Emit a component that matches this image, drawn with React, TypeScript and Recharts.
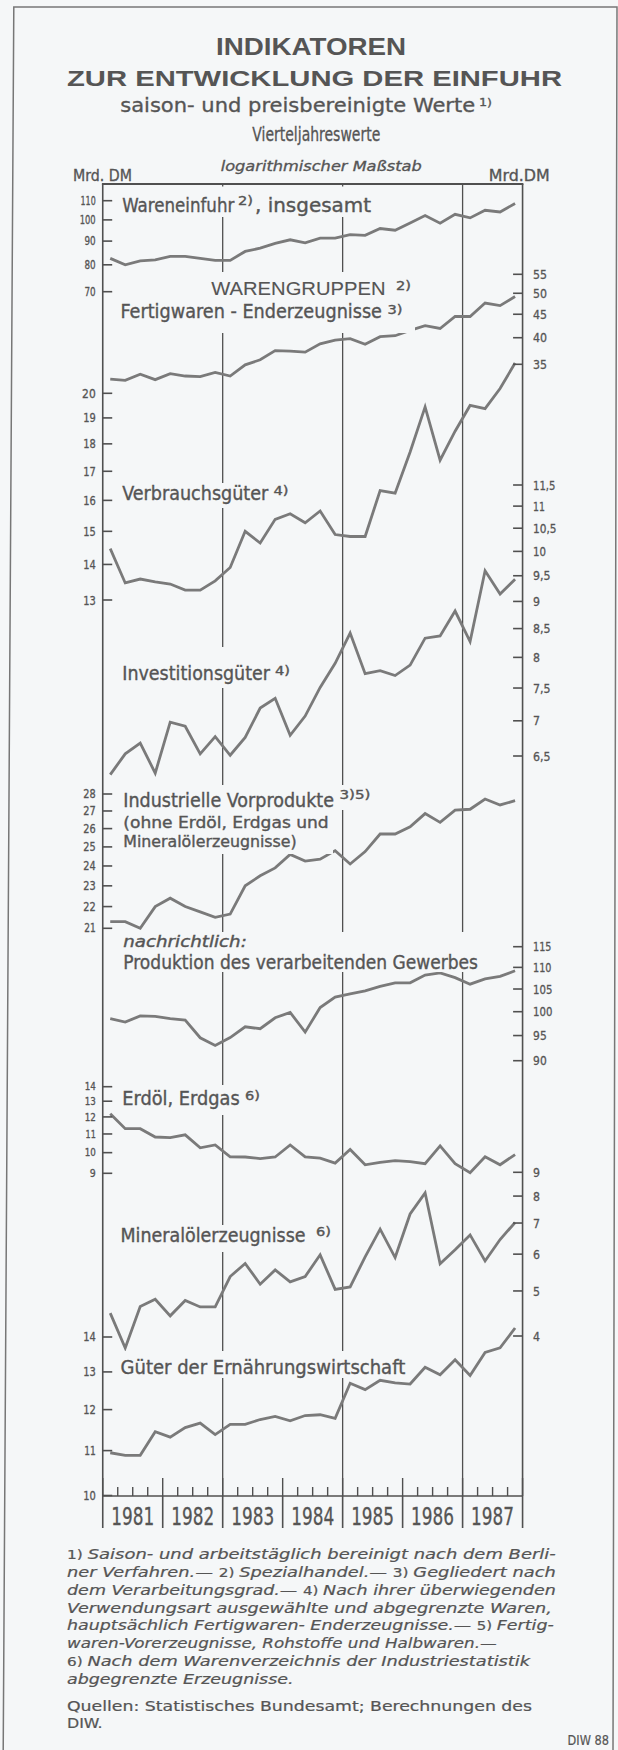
import React from 'react';
import { LineChart, Line, XAxis, YAxis, ReferenceLine } from 'recharts';

// Vierteljahreswerte 1981 I bis 1987 IV
const YEARS = ['1981', '1982', '1983', '1984', '1985', '1986', '1987'];

const WARENEINFUHR = [82.6, 80, 81.6, 82, 83.4, 83.4, 82.6, 81.8, 81.8, 85.5, 86.9, 89, 90.6, 89.2, 91.3, 91.3, 92.9, 92.6, 95.8, 95, 98.5, 102.2, 98.4, 102.8, 101, 104.9, 104, 108.5];
const FERTIGWAREN = [32.5, 32.3, 33.3, 32.4, 33.4, 33.0, 32.9, 33.6, 33.0, 34.9, 35.8, 37.5, 37.4, 37.2, 38.8, 39.5, 39.8, 38.7, 40.2, 40.4, 41.5, 42.5, 41.9, 44.5, 44.5, 47.6, 47.0, 49.2];
const VERBRAUCHSGUETER = [14.47, 13.47, 13.58, 13.5, 13.44, 13.27, 13.27, 13.53, 13.91, 15.0, 14.64, 15.38, 15.56, 15.27, 15.65, 14.9, 14.84, 14.84, 16.33, 16.24, 17.7, 19.44, 17.4, 18.48, 19.5, 19.37, 20.2, 21.3];
const INVESTITIONSGUETER = [6.25, 6.53, 6.68, 6.27, 6.98, 6.92, 6.53, 6.77, 6.51, 6.76, 7.19, 7.34, 6.79, 7.07, 7.51, 7.9, 8.42, 7.73, 7.78, 7.7, 7.87, 8.33, 8.37, 8.82, 8.27, 9.6, 9.14, 9.43];
const VORPRODUKTE = [21.3, 21.3, 21.0, 22.0, 22.4, 22.0, 21.75, 21.5, 21.65, 23.0, 23.5, 23.9, 24.6, 24.25, 24.35, 24.8, 24.1, 24.75, 25.7, 25.7, 26.1, 26.85, 26.35, 27.05, 27.1, 27.7, 27.35, 27.6];
const PRODUKTION = [98.5, 97.8, 99.1, 99.0, 98.5, 98.2, 94.55, 93.0, 94.6, 96.8, 96.4, 98.7, 99.85, 95.7, 100.9, 103.2, 103.9, 104.6, 105.6, 106.4, 106.4, 108.2, 108.7, 107.6, 106.1, 107.3, 107.9, 109.2];
const ERDOEL_ERDGAS = [12.2, 11.3, 11.3, 10.83, 10.8, 10.95, 10.25, 10.4, 9.79, 9.78, 9.7, 9.78, 10.4, 9.79, 9.72, 9.48, 10.16, 9.4, 9.52, 9.6, 9.55, 9.45, 10.35, 9.45, 9.03, 9.79, 9.4, 9.9];
const MINERALOEL = [4.48, 3.77, 4.63, 4.8, 4.42, 4.77, 4.62, 4.62, 5.37, 5.73, 5.17, 5.55, 5.23, 5.37, 5.98, 5.04, 5.1, 5.92, 6.79, 5.9, 7.32, 8.13, 5.72, 6.13, 6.6, 5.8, 6.45, 7.02];
const ERNAEHRUNG = [10.95, 10.89, 10.89, 11.45, 11.32, 11.55, 11.66, 11.38, 11.63, 11.63, 11.75, 11.83, 11.72, 11.85, 11.87, 11.78, 12.69, 12.52, 12.77, 12.7, 12.67, 13.13, 12.92, 13.34, 12.9, 13.55, 13.68, 14.27];

const WARE_TICKS = [110, 100, 90, 80, 70];
const FERTIG_TICKS = [55, 50, 45, 40, 35];
const VERBRAUCH_TICKS = [20, 19, 18, 17, 16, 15, 14, 13];
const INVEST_TICKS = [11.5, 11, 10.5, 10, 9.5, 9, 8.5, 8, 7.5, 7, 6.5];
const VORPROD_TICKS = [28, 27, 26, 25, 24, 23, 22, 21];
const PROD_TICKS = [115, 110, 105, 100, 95, 90];
const ERDOEL_TICKS = [14, 13, 12, 11, 10, 9];
const MINERAL_TICKS = [9, 8, 7, 6, 5, 4];
const ERNAEHRUNG_TICKS = [14, 13, 12, 11, 10];

const BG = '#f5f7f8';
const INK = '#555555';
const AXIS = '#505050';
const LINE = '#7a7a7a';
const LABEL_FONT = "'DejaVu Sans Condensed', 'Liberation Sans Narrow', 'Liberation Sans', sans-serif";
const TITLE_FONT = "'Liberation Sans', Arial, sans-serif";

// plot frame on the page
const TOP = 184;
const BOTTOM = 1496;
const LEFT = 102.7;
const RIGHT = 522.6;
const CHART_H = 1540;
const THIN = 0.01; // axes need a size > 0 to be drawn

// every panel has its own log scale; fixed by two tick positions
function logDomain(v1: number, y1: number, v2: number, y2: number): [number, number] {
  const ppd = (y2 - y1) / (Math.log10(v1) - Math.log10(v2));
  const hi = Math.log10(v1) + (y1 - TOP) / ppd;
  const lo = hi - (BOTTOM - TOP) / ppd;
  return [Math.pow(10, lo), Math.pow(10, hi)];
}

const SERIES = [
  { key: 'ware', values: WARENEINFUHR, side: 'left', ticks: WARE_TICKS, domain: logDomain(110, 200.7, 70, 291.7), fs: 11.5, cw: 5.6 },
  { key: 'fertig', values: FERTIGWAREN, side: 'right', ticks: FERTIG_TICKS, domain: logDomain(55, 274.3, 35, 364.3), fs: 13, cw: 7 },
  { key: 'verbrauch', values: VERBRAUCHSGUETER, side: 'left', ticks: VERBRAUCH_TICKS, domain: logDomain(20, 393.3, 13, 600), fs: 12.5, cw: 6.8 },
  { key: 'invest', values: INVESTITIONSGUETER, side: 'right', ticks: INVEST_TICKS, domain: logDomain(11.5, 485, 6.5, 756), fs: 13, cw: 7 },
  { key: 'vorprod', values: VORPRODUKTE, side: 'left', ticks: VORPROD_TICKS, domain: logDomain(28, 794, 21, 928.3), fs: 11.5, cw: 6.2 },
  { key: 'prod', values: PRODUKTION, side: 'right', ticks: PROD_TICKS, domain: logDomain(115, 946.7, 90, 1060.7), fs: 12.5, cw: 6.8 },
  { key: 'erdoel', values: ERDOEL_ERDGAS, side: 'left', ticks: ERDOEL_TICKS, domain: logDomain(14, 1086.7, 9, 1173.3), fs: 10.5, cw: 6 },
  { key: 'mineral', values: MINERALOEL, side: 'right', ticks: MINERAL_TICKS, domain: logDomain(9, 1172.3, 4, 1336), fs: 13, cw: 7 },
  { key: 'ernaehrung', values: ERNAEHRUNG, side: 'left', ticks: ERNAEHRUNG_TICKS, domain: logDomain(14, 1337, 10, 1495.5), fs: 12, cw: 6.8 },
];

const data = WARENEINFUHR.map((_, i) => {
  const row: Record<string, number> = { q: i + 0.5 };
  SERIES.forEach((s) => { row[s.key] = s.values[i]; });
  return row;
});

const QUARTER_TICKS = Array.from({ length: YEARS.length * 4 + 1 }, (_, i) => i);

const fmt = (v: number) => String(v).replace('.', ',');
const tickWidth = (label: string, cw: number) =>
  label.split('').reduce((a, c) => a + (c === ',' ? cw * 0.5 : c === '1' ? cw * 0.85 : cw), 0);

const makeTick = (side: string, fs: number, cw: number) => (props: any) => {
  const { x, y, payload } = props;
  const label = fmt(payload.value);
  const left = side === 'left';
  return (
    <g>
      <line x1={x} x2={left ? x + 9.5 : x - 9.5} y1={y} y2={y} stroke={AXIS} strokeWidth={1.6} />
      <text
        x={left ? x - 7 : x + 10.5}
        y={y}
        dy={fs * 0.36}
        textAnchor={left ? 'end' : 'start'}
        fontSize={fs}
        fontFamily={LABEL_FONT}
        fill={INK}
        stroke={INK}
        strokeWidth={0.3}
        textLength={tickWidth(label, cw)}
        lengthAdjust="spacingAndGlyphs"
      >
        {label}
      </text>
    </g>
  );
};

const quarterTick = (props: any) => {
  const { x, y, payload } = props;
  const t = payload.value as number;
  const yearEdge = t % 4 === 0;
  return (
    <g>
      <line x1={x} x2={x} y1={y} y2={y - (yearEdge ? 18 : 9)} stroke={AXIS} strokeWidth={1.4} />
      {yearEdge && <line x1={x} x2={x} y1={y} y2={y + 32} stroke={AXIS} strokeWidth={1.6} />}
      {t % 4 === 2 && (
        <text x={x} y={y + 29} textAnchor="middle" fontSize={25} fontFamily={LABEL_FONT} fill={INK}
          stroke={INK} strokeWidth={0.3} textLength={43} lengthAdjust="spacingAndGlyphs">
          {YEARS[(t - 2) / 4]}
        </text>
      )}
    </g>
  );
};

type Label = { t: string; x: number; y: number; w: number; fs: number; italic?: boolean };

const LABELS: Label[] = [
  { t: 'Wareneinfuhr', x: 122.3, y: 211.7, w: 112, fs: 20 },
  { t: '2)', x: 238, y: 205, w: 15, fs: 12 },
  { t: ', insgesamt', x: 255, y: 211.7, w: 116, fs: 20 },
  { t: 'Fertigwaren - Enderzeugnisse', x: 120.5, y: 318.3, w: 261.5, fs: 19.5 },
  { t: '3)', x: 387.4, y: 314, w: 15, fs: 12 },
  { t: 'Verbrauchsgüter', x: 122.3, y: 500, w: 146, fs: 19.5 },
  { t: '4)', x: 273.5, y: 495, w: 15, fs: 12 },
  { t: 'Investitionsgüter', x: 122.3, y: 680, w: 147.7, fs: 19.5 },
  { t: '4)', x: 275, y: 675, w: 15, fs: 12 },
  { t: 'Industrielle Vorprodukte', x: 123.3, y: 806.7, w: 210.7, fs: 19 },
  { t: '3)5)', x: 339.4, y: 799, w: 31, fs: 12 },
  { t: '(ohne Erdöl, Erdgas und', x: 123.3, y: 828.3, w: 205.4, fs: 16 },
  { t: 'Mineralölerzeugnisse)', x: 123.3, y: 846.7, w: 173.4, fs: 16 },
  { t: 'nachrichtlich:', x: 123.3, y: 946.7, w: 123.5, fs: 15, italic: true },
  { t: 'Produktion des verarbeitenden Gewerbes', x: 123.3, y: 969.3, w: 354.7, fs: 20 },
  { t: 'Erdöl, Erdgas', x: 122.3, y: 1105, w: 117.4, fs: 19.5 },
  { t: '6)', x: 245, y: 1100, w: 15, fs: 12 },
  { t: 'Mineralölerzeugnisse', x: 120.5, y: 1241.7, w: 185, fs: 19 },
  { t: '6)', x: 316, y: 1236, w: 15, fs: 12 },
  { t: 'Güter der Ernährungswirtschaft', x: 120.5, y: 1374, w: 284.7, fs: 19.5 },
];

// background patches that break the year lines behind the labels
const MASKS = [
  [116, 186.5, 262, 30.5],
  [116, 272, 299, 61],
  [118, 483, 176, 25],
  [118, 647, 182, 41],
  [118, 785, 258, 25],
  [118, 810, 215, 44],
  [118, 932, 365, 40],
  [118, 1085, 148, 30],
  [116, 1225, 221, 27],
  [116, 1351, 294, 27],
];

type Seg = { t: string; sup?: boolean };
const FOOTNOTES: { segs: Seg[]; y: number; w: number }[] = [
  { segs: [{ t: '1) ', sup: true }, { t: 'Saison- und arbeitstäglich bereinigt nach dem Berli-' }], y: 1559, w: 488.8 },
  { segs: [{ t: 'ner Verfahren.— ' }, { t: '2) ', sup: true }, { t: 'Spezialhandel.— ' }, { t: '3) ', sup: true }, { t: 'Gegliedert nach' }], y: 1577, w: 488.8 },
  { segs: [{ t: 'dem Verarbeitungsgrad.— ' }, { t: '4) ', sup: true }, { t: 'Nach ihrer überwiegenden' }], y: 1595, w: 488.8 },
  { segs: [{ t: 'Verwendungsart ausgewählte und abgegrenzte Waren,' }], y: 1612.5, w: 484.8 },
  { segs: [{ t: 'hauptsächlich Fertigwaren- Enderzeugnisse.— ' }, { t: '5) ', sup: true }, { t: 'Fertig-' }], y: 1630, w: 486.8 },
  { segs: [{ t: 'waren-Vorerzeugnisse, Rohstoffe und Halbwaren.—' }], y: 1648, w: 429.7 },
  { segs: [{ t: '6) ', sup: true }, { t: 'Nach dem Warenverzeichnis der Industriestatistik' }], y: 1666, w: 463 },
  { segs: [{ t: 'abgegrenzte Erzeugnisse.' }], y: 1684, w: 226.6 },
];

function Overlay() {
  return (
    <svg width={618} height={1750} style={{ position: 'absolute', left: 0, top: 0, pointerEvents: 'none' }}>
      <polyline points="3.2,1750 13.8,7 617,7 613,1750" fill="none" stroke="#777" strokeWidth={1.5} />
      {/* upper edge of the plot frame */}
      <rect x={LEFT - 0.8} y={TOP - 1} width={RIGHT - LEFT + 1.6} height={2} fill={AXIS} />

      <g fill={INK} fontFamily={TITLE_FONT}>
        <text x={216} y={55} fontSize={24} fontWeight="bold" textLength={190} lengthAdjust="spacingAndGlyphs">INDIKATOREN</text>
        <text x={67} y={86} fontSize={22.5} fontWeight="bold" textLength={495} lengthAdjust="spacingAndGlyphs">ZUR ENTWICKLUNG DER EINFUHR</text>
      </g>
      <g fill={INK} stroke={INK} strokeWidth={0.3} fontFamily={LABEL_FONT}>
        <text x={120.2} y={111.7} fontSize={20} textLength={355} lengthAdjust="spacingAndGlyphs">saison- und preisbereinigte Werte</text>
        <text x={479} y={106} fontSize={11} textLength={13} lengthAdjust="spacingAndGlyphs">1)</text>
        <text x={252.3} y={140.7} fontSize={19} textLength={128} lengthAdjust="spacingAndGlyphs">Vierteljahreswerte</text>
        <text x={220.7} y={171} fontSize={14} fontStyle="italic" textLength={201} lengthAdjust="spacingAndGlyphs">logarithmischer Maßstab</text>
        <text x={73} y={180.5} fontSize={15} textLength={59} lengthAdjust="spacingAndGlyphs">Mrd. DM</text>
        <text x={488.8} y={180.5} fontSize={15} textLength={61} lengthAdjust="spacingAndGlyphs">Mrd.DM</text>
      </g>

      {MASKS.map(([x, y, w, h], i) => (
        <rect key={i} x={x} y={y} width={w} height={h} fill={BG} />
      ))}

      <g fill={INK} stroke={INK} strokeWidth={0.35} fontFamily={LABEL_FONT}>
        {LABELS.map((l, i) => (
          <text key={i} x={l.x} y={l.y} fontSize={l.fs} fontStyle={l.italic ? 'italic' : 'normal'}
            textLength={l.w} lengthAdjust="spacingAndGlyphs">
            {l.t}
          </text>
        ))}
        <text x={211.2} y={295} fontSize={18.5} fontFamily={TITLE_FONT} strokeWidth={0.1} textLength={174.4} lengthAdjust="spacingAndGlyphs">WARENGRUPPEN</text>
        <text x={396} y={290} fontSize={12} textLength={15} lengthAdjust="spacingAndGlyphs">2)</text>
      </g>

      <g fill={INK} stroke={INK} strokeWidth={0.2} fontFamily={LABEL_FONT} fontSize={14}>
        {FOOTNOTES.map((f, i) => (
          <text key={i} x={67} y={f.y} textLength={f.w} lengthAdjust="spacingAndGlyphs" fontStyle="italic">
            {f.segs.map((s, j) => (
              <tspan key={j} fontStyle={s.sup ? 'normal' : 'italic'} fontSize={s.sup ? 12 : 14}>{s.t}</tspan>
            ))}
          </text>
        ))}
        <text x={67} y={1711} textLength={465} lengthAdjust="spacingAndGlyphs">Quellen: Statistisches Bundesamt; Berechnungen des</text>
        <text x={67} y={1728} textLength={35.5} lengthAdjust="spacingAndGlyphs">DIW.</text>
        <text x={567.6} y={1745} textLength={41.4} lengthAdjust="spacingAndGlyphs">DIW 88</text>
      </g>
    </svg>
  );
}

export default function App() {
  return (
    <div style={{ position: 'relative', width: 618, height: 1750, background: BG, overflow: 'hidden' }}>
      <style>{'body{margin:0}'}</style>
      <div style={{ position: 'absolute', left: 0, top: 0 }}>
        <LineChart
          width={618}
          height={CHART_H}
          data={data}
          margin={{ top: TOP, right: 618 - RIGHT - THIN, bottom: CHART_H - BOTTOM - THIN, left: LEFT - THIN }}
        >
          <XAxis
            dataKey="q"
            type="number"
            domain={[0, 28]}
            ticks={QUARTER_TICKS}
            interval={0}
            tick={quarterTick}
            tickLine={false}
            tickSize={0}
            tickMargin={0}
            height={THIN}
            axisLine={{ stroke: AXIS, strokeWidth: 1.6 }}
            allowDataOverflow
          />
          {SERIES.map((s) => (
            <YAxis
              key={s.key}
              yAxisId={s.key}
              orientation={s.side as 'left' | 'right'}
              type="number"
              scale="log"
              domain={s.domain}
              allowDataOverflow
              ticks={s.ticks}
              interval={0}
              width={THIN}
              tickSize={0}
              tickMargin={0}
              tickLine={false}
              axisLine={false}
              tick={makeTick(s.side, s.fs, s.cw)}
            />
          ))}
          {[0, 8, 16, 24, 28].map((x) => (
            <ReferenceLine key={x} x={x} yAxisId="ware" stroke={AXIS} strokeWidth={x % 28 === 0 ? 1.6 : 1.3} />
          ))}
          {SERIES.map((s) => (
            <Line
              key={s.key}
              yAxisId={s.key}
              dataKey={s.key}
              type="linear"
              stroke={LINE}
              strokeWidth={2.8}
              dot={false}
              activeDot={false}
              isAnimationActive={false}
            />
          ))}
        </LineChart>
      </div>
      <Overlay />
    </div>
  );
}
